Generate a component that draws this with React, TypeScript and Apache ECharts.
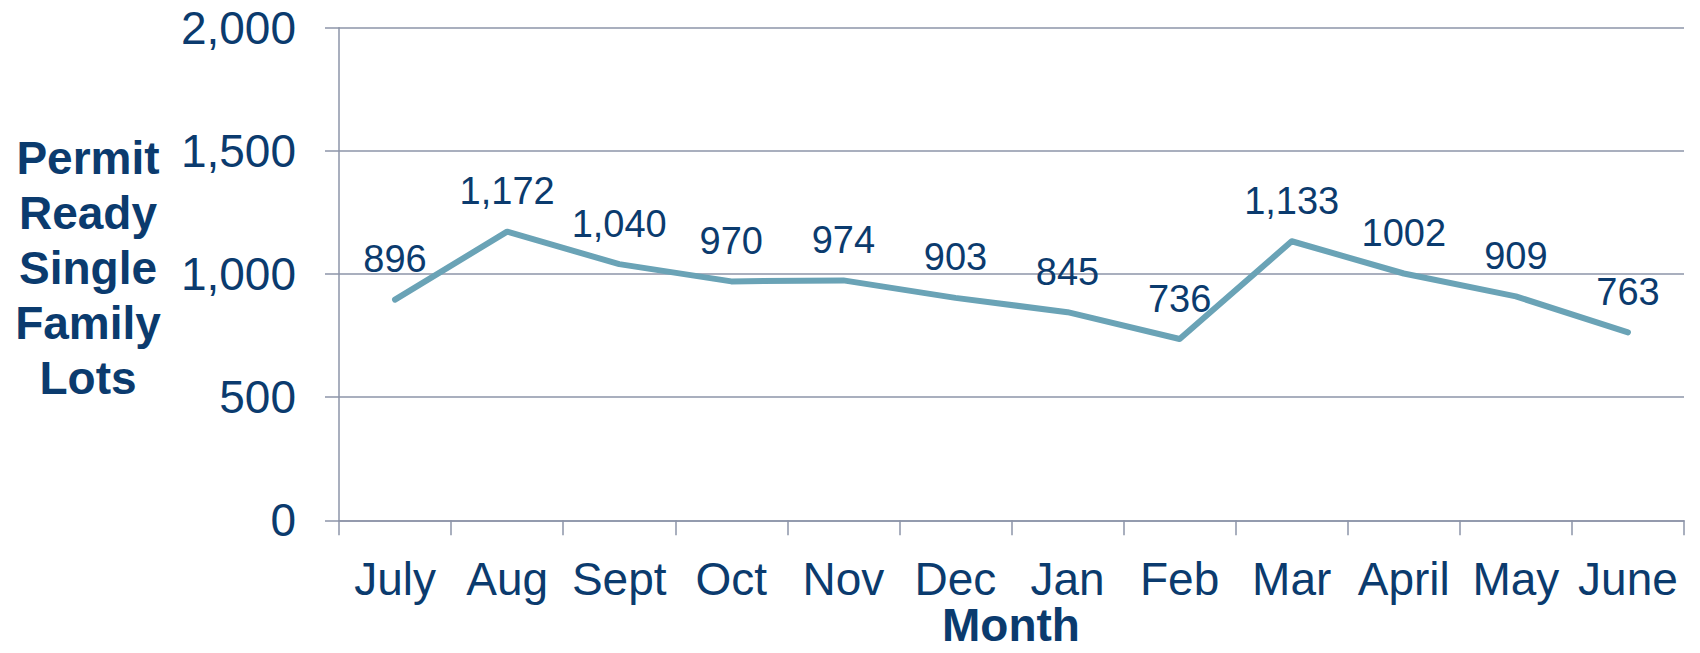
import React, { useEffect, useRef } from "react";
import * as echarts from "echarts";

const months = ["July", "Aug", "Sept", "Oct", "Nov", "Dec", "Jan", "Feb", "Mar", "April", "May", "June"];
const lots = [896, 1172, 1040, 970, 974, 903, 845, 736, 1133, 1002, 909, 763];
const lotLabels = ["896", "1,172", "1,040", "970", "974", "903", "845", "736", "1,133", "1002", "909", "763"];
const yTitleLines = ["Permit", "Ready", "Single", "Family", "Lots"];
const xTitle = "Month";

const TEXT = "#0b3b6e";
const GRID = "#8d94a8";
const LINE = "#6aa3b6";
const FONT = "'Liberation Sans', Arial, sans-serif";

export default function App() {
  const ref = useRef<HTMLDivElement>(null);
  useEffect(() => {
    if (!ref.current) return;
    const chart = echarts.init(ref.current, undefined, { renderer: "svg" });
    chart.setOption({
      animation: false,
      textStyle: { fontFamily: FONT },
      grid: { left: 339, right: 16, top: 27.7, bottom: 132.7, containLabel: false },
      xAxis: {
        type: "category",
        data: months,
        boundaryGap: true,
        axisLine: { show: true, lineStyle: { color: GRID, width: 1.5 } },
        axisTick: { show: true, length: 15, alignWithLabel: false, lineStyle: { color: GRID, width: 1.5 } },
        axisLabel: { color: TEXT, fontSize: 46, fontFamily: FONT, margin: 36, interval: 0 },
        splitLine: { show: false },
      },
      yAxis: {
        type: "value",
        min: 0,
        max: 2000,
        interval: 500,
        axisLine: { show: true, lineStyle: { color: GRID, width: 1.5 } },
        axisTick: { show: true, length: 14, lineStyle: { color: GRID, width: 1.5 } },
        axisLabel: {
          color: TEXT,
          fontSize: 46,
          fontFamily: FONT,
          margin: 43,
          formatter: (v: number) => v.toLocaleString("en-US"),
        },
        splitLine: { show: true, lineStyle: { color: GRID, width: 1.5 } },
      },
      series: [
        {
          type: "line",
          data: lots,
          symbol: "circle",
          symbolSize: 1,
          itemStyle: { color: LINE },
          lineStyle: { color: LINE, width: 6, cap: "round", join: "round" },
          label: {
            show: true,
            position: "top",
            distance: 21,
            color: TEXT,
            fontSize: 38,
            fontFamily: FONT,
            formatter: (p: any) => lotLabels[p.dataIndex],
          },
        },
      ],
      graphic: [
        {
          type: "text",
          x: 88,
          y: 268,
          style: {
            text: yTitleLines.join("\n"),
            fill: TEXT,
            font: `bold 46px ${FONT}`,
            lineHeight: 55,
            align: "center",
            verticalAlign: "middle",
          },
        },
        {
          type: "text",
          x: 1011,
          y: 625,
          style: {
            text: xTitle,
            fill: TEXT,
            font: `bold 46px ${FONT}`,
            lineHeight: 36,
            align: "center",
            verticalAlign: "middle",
          },
        },
      ],
    });
    return () => chart.dispose();
  }, []);
  return (
    <div
      ref={ref}
      style={{ position: "fixed", left: 0, top: 0, width: 1700, height: 653, background: "#fff" }}
    />
  );
}
